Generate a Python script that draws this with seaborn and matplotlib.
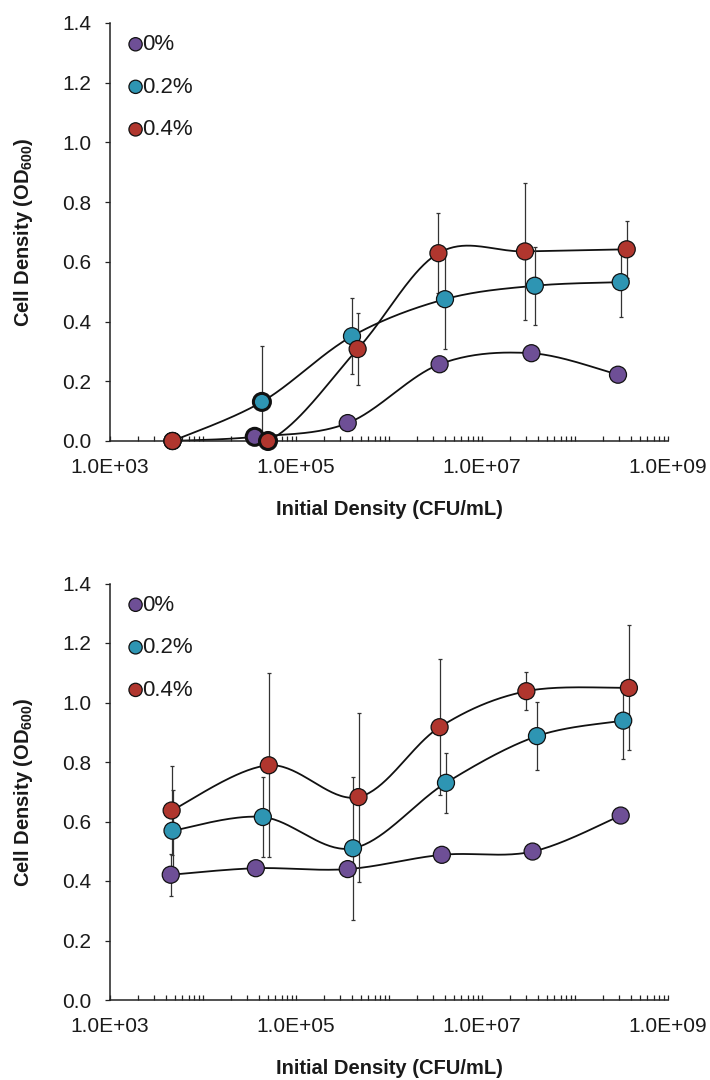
import numpy as np
import matplotlib
matplotlib.use("Agg")
import matplotlib.pyplot as plt
import matplotlib.ticker as mticker
import seaborn as sns

# ---------------- data ----------------
series_names = ["0%", "0.2%", "0.4%"]
series_colors = ["#6E4F96", "#2E95B3", "#B0362E"]

# top panel
top_x_purple = [4.7e3, 3.6e4, 3.6e5, 3.5e6, 3.4e7, 2.9e8]
top_y_purple = [0.0, 0.014, 0.06, 0.257, 0.294, 0.222]
top_e_purple = [0, 0, 0, 0, 0, 0]
top_x_teal = [4.7e3, 4.3e4, 4.0e5, 4.0e6, 3.7e7, 3.1e8]
top_y_teal = [0.0, 0.131, 0.351, 0.475, 0.52, 0.532]
top_e_teal = [0, 0.188, 0.127, 0.168, 0.13, 0.118]
top_x_red = [4.7e3, 5.0e4, 4.6e5, 3.4e6, 2.9e7, 3.6e8]
top_y_red = [0.0, 0.0, 0.308, 0.629, 0.635, 0.642]
top_e_red = [0, 0, 0.122, 0.133, 0.23, 0.095]
top_thick_edge = [False, True, False, False, False, False]

# bottom panel
bot_x_purple = [4.5e3, 3.7e4, 3.6e5, 3.7e6, 3.5e7, 3.1e8]
bot_y_purple = [0.421, 0.443, 0.44, 0.488, 0.499, 0.62]
bot_e_purple = [0.07, 0, 0, 0, 0, 0]
bot_x_teal = [4.7e3, 4.4e4, 4.1e5, 4.1e6, 3.9e7, 3.3e8]
bot_y_teal = [0.569, 0.615, 0.51, 0.73, 0.887, 0.939]
bot_e_teal = [0.137, 0.133, 0.241, 0.10, 0.115, 0.13]
bot_x_red = [4.6e3, 5.1e4, 4.7e5, 3.5e6, 3.0e7, 3.8e8]
bot_y_red = [0.637, 0.789, 0.682, 0.917, 1.038, 1.049]
bot_e_red = [0.148, 0.31, 0.284, 0.228, 0.064, 0.21]
bot_thick_edge = [False] * 6

x_tick_values = [1e3, 1e4, 1e5, 1e6, 1e7, 1e8, 1e9]
x_tick_labels = ["1.0E+03", "", "1.0E+05", "", "1.0E+07", "", "1.0E+09"]
y_tick_values = [0.0, 0.2, 0.4, 0.6, 0.8, 1.0, 1.2, 1.4]
x_label = "Initial Density (CFU/mL)"
y_label = r"Cell Density (OD$_{\mathbf{600}}$)"

# ---------------- style ----------------
sns.set_theme(style="white")
plt.rcParams["font.family"] = ["Liberation Sans", "DejaVu Sans"]
plt.rcParams["mathtext.fontset"] = "custom"
plt.rcParams["mathtext.rm"] = "Liberation Sans"
plt.rcParams["mathtext.bf"] = "Liberation Sans:bold"
plt.rcParams["mathtext.it"] = "Liberation Sans:italic"

TEXT = "#1a1a1a"


def smooth(xs, ys, n=40):
    """Excel-like smoothed line (Catmull-Rom / cubic Bezier) in log-x space."""
    u = np.log10(np.asarray(xs, float))
    v = np.asarray(ys, float)
    P = np.column_stack([u, v])
    m = len(P)
    out = []
    for i in range(m - 1):
        p0 = P[max(i - 1, 0)]
        p1 = P[i]
        p2 = P[i + 1]
        p3 = P[min(i + 2, m - 1)]
        b1 = p1 + (p2 - p0) / 6.0
        b2 = p2 - (p3 - p1) / 6.0
        t = np.linspace(0, 1, n)[:, None]
        seg = ((1 - t) ** 3) * p1 + 3 * ((1 - t) ** 2) * t * b1 + 3 * (1 - t) * t ** 2 * b2 + t ** 3 * p2
        out.append(seg if i == 0 else seg[1:])
    c = np.vstack(out)
    return 10 ** c[:, 0], c[:, 1]


def draw_panel(ax, xs_list, ys_list, es_list, thick):
    # lines
    for xs, ys in zip(xs_list, ys_list):
        cx, cy = smooth(xs, ys)
        sns.lineplot(x=cx, y=cy, ax=ax, sort=False, estimator=None,
                     color="#111111", linewidth=1.3, zorder=2)
    # error bars
    for xs, ys, es in zip(xs_list, ys_list, es_list):
        ax.errorbar(xs, ys, yerr=es, fmt="none", ecolor="#333333",
                    elinewidth=0.9, capsize=1.6, capthick=0.9, zorder=3)
    # markers
    for k, (xs, ys) in enumerate(zip(xs_list, ys_list)):
        lw = [2.2 if t else 0.9 for t in thick]
        sns.scatterplot(x=xs, y=ys, ax=ax, color=series_colors[k], s=150,
                        edgecolor="#111111", linewidth=lw, zorder=4 + k,
                        clip_on=False, label=series_names[k])

    ax.set_xscale("log")
    ax.set_xlim(1e3, 1e9)
    ax.set_ylim(0, 1.4)
    ax.xaxis.set_major_locator(mticker.FixedLocator(x_tick_values))
    ax.xaxis.set_major_formatter(mticker.FixedFormatter(x_tick_labels))
    ax.xaxis.set_minor_locator(mticker.LogLocator(base=10, subs=np.arange(2, 10)))
    ax.xaxis.set_minor_formatter(mticker.NullFormatter())
    ax.set_yticks(y_tick_values)
    ax.yaxis.set_major_formatter(mticker.FormatStrFormatter("%.1f"))

    ax.tick_params(axis="x", which="both", direction="in", length=3.6, width=0.9,
                   color="#222222", bottom=True, labelsize=15, labelcolor=TEXT, pad=12)
    ax.tick_params(axis="y", which="major", direction="out", length=3.6, width=0.9,
                   color="#222222", left=True, labelsize=15, labelcolor=TEXT, pad=10)
    for side in ["top", "right"]:
        ax.spines[side].set_visible(False)
    for side in ["left", "bottom"]:
        ax.spines[side].set_color("#222222")
        ax.spines[side].set_linewidth(1.1)

    ax.set_xlabel(x_label, fontsize=14.5, fontweight="bold", color=TEXT, labelpad=17)
    ax.set_ylabel(y_label, fontsize=14.5, fontweight="bold", color=TEXT, labelpad=19)

    leg = ax.legend(loc="upper left", bbox_to_anchor=(0.006, 1.0), frameon=False,
                    fontsize=16, markerscale=0.78, handletextpad=-0.2,
                    handlelength=1.0, labelspacing=0.97, borderaxespad=0.3,
                    borderpad=0.2)
    for t in leg.get_texts():
        t.set_color(TEXT)


fig = plt.figure(figsize=(7.1, 10.8), dpi=100)
ax_top = fig.add_axes([110 / 710, 1 - 441 / 1080, 558 / 710, 418 / 1080])
ax_bot = fig.add_axes([110 / 710, 1 - 1000 / 1080, 558 / 710, 416.5 / 1080])

draw_panel(ax_top,
           [top_x_purple, top_x_teal, top_x_red],
           [top_y_purple, top_y_teal, top_y_red],
           [top_e_purple, top_e_teal, top_e_red],
           top_thick_edge)
draw_panel(ax_bot,
           [bot_x_purple, bot_x_teal, bot_x_red],
           [bot_y_purple, bot_y_teal, bot_y_red],
           [bot_e_purple, bot_e_teal, bot_e_red],
           bot_thick_edge)

fig.savefig("out.png", dpi=100, facecolor="white")
